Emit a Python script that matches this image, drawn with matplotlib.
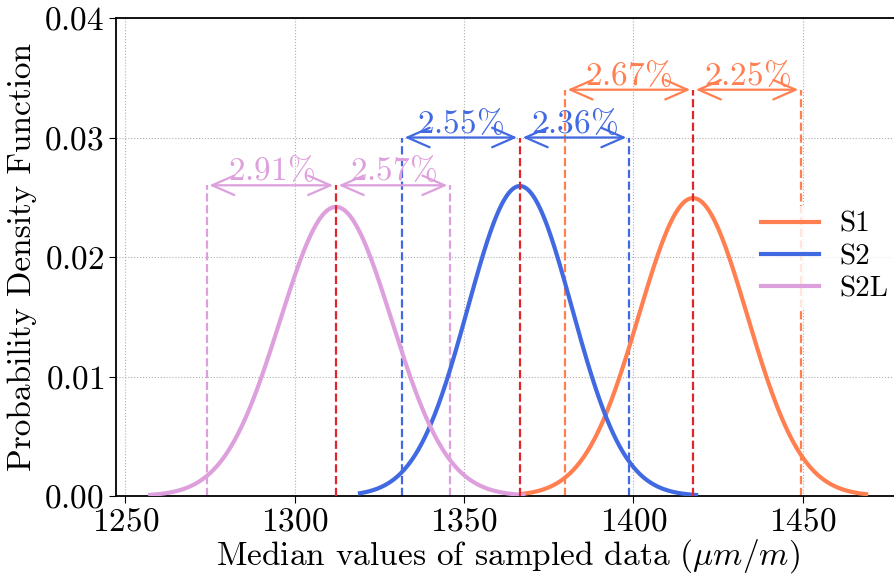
import numpy as np
import matplotlib
matplotlib.use('Agg')
import matplotlib.pyplot as plt

plt.rcParams['font.family'] = 'serif'
plt.rcParams['font.serif'] = ['cmr10']
plt.rcParams['mathtext.fontset'] = 'cm'
plt.rcParams['axes.formatter.use_mathtext'] = True
plt.rcParams['axes.unicode_minus'] = False

# series
names = ['S1', 'S2', 'S2L']
colors = ['coral', 'royalblue', 'plum']
means = [1417.6, 1366.5, 1312.2]
sigmas = [16.0, 15.38, 16.49]
x_lo = [1367.0, 1319.3, 1257.4]
x_hi = [1468.7, 1418.5, 1367.5]
pct_low = [2.67, 2.55, 2.91]
pct_high = [2.25, 2.36, 2.57]
arrow_y = [0.034, 0.030, 0.026]

fig = plt.figure(figsize=(8.94, 5.81), dpi=100)
ax = fig.add_axes([0.1298, 0.1463, 0.8762, 0.8227])

for i in range(len(names)):
    m = means[i]
    s = sigmas[i]
    x = np.linspace(x_lo[i], x_hi[i], 400)
    pdf = np.exp(-0.5 * ((x - m) / s) ** 2) / (s * np.sqrt(2 * np.pi))
    ax.plot(x, pdf, color=colors[i], lw=3, label=names[i], zorder=3)

for i in range(len(names)):
    m = means[i]
    h = arrow_y[i]
    lo = m * (1 - pct_low[i] / 100.0)
    hi = m * (1 + pct_high[i] / 100.0)
    ax.vlines([lo, hi], 0, h, colors=colors[i], linestyles='--', lw=1.6, zorder=2)
    ax.vlines(m, 0, h, colors='#e0262b', linestyles='--', lw=1.6, zorder=4)
    for a, b, p in [(lo, m, pct_low[i]), (m, hi, pct_high[i])]:
        ax.annotate('', xy=(a, h), xytext=(b, h),
                    arrowprops=dict(arrowstyle='<->,head_length=0.8,head_width=0.35',
                                    color=colors[i], lw=1.6, mutation_scale=20))
        ax.text((a + b) / 2, h + 0.0004, r'$%.2f\%%$' % p, color=colors[i],
                fontsize=24, ha='center', va='baseline')

ax.set_xlim(1247.3, 1478.5)
ax.set_ylim(0, 0.04)
ax.set_xticks([1250, 1300, 1350, 1400, 1450])
ax.set_yticks([0.0, 0.01, 0.02, 0.03, 0.04])
ax.set_yticklabels([r'$%.2f$' % v for v in [0.0, 0.01, 0.02, 0.03, 0.04]])
ax.tick_params(labelsize=24, length=5)
ax.grid(True, ls=':', color='#b0b0b0', lw=0.8)
ax.set_axisbelow(True)
ax.spines['right'].set_visible(False)
for sp in ['left', 'bottom', 'top']:
    ax.spines[sp].set_linewidth(1.3)

ax.set_xlabel(r'Median values of sampled data ($\mu m/m$)', fontsize=24, labelpad=0)
ax.set_ylabel('Probability Density Function', fontsize=24, labelpad=5)

leg = ax.legend(loc='center right', fontsize=21, frameon=True, framealpha=0.8,
                edgecolor='none', labelspacing=0.2, borderpad=0.2,
                handletextpad=0.7, bbox_to_anchor=(1.012, 0.5))

fig.savefig('out.png', dpi=100)
